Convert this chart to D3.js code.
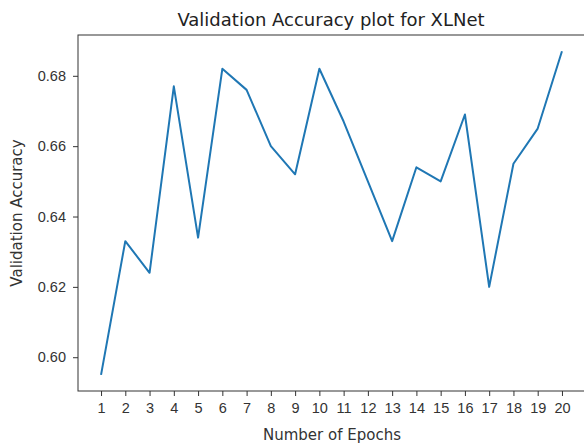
<!DOCTYPE html>
<html>
<head>
<meta charset="utf-8">
<script src="https://cdn.jsdelivr.net/npm/d3@7"></script>
<style>
  body { margin: 0; background: #fff; }
  svg { display: block; font-family: "DejaVu Sans", sans-serif; }
</style>
</head>
<body>
<script>
// data
const epochs = [1, 2, 3, 4, 5, 6, 7, 8, 9, 10, 11, 12, 13, 14, 15, 16, 17, 18, 19, 20];
const accuracy = [0.595, 0.633, 0.624, 0.677, 0.634, 0.682, 0.676, 0.660, 0.652, 0.682,
                  0.667, 0.650, 0.633, 0.654, 0.650, 0.669, 0.620, 0.655, 0.665, 0.687];
const yTicks = [0.60, 0.62, 0.64, 0.66, 0.68];

const width = 584, height = 443;
const margin = {top: 35, right: -1, bottom: 52, left: 78};

const svg = d3.select("body").append("svg")
    .attr("width", width)
    .attr("height", height);

const xPad = (d3.max(epochs) - d3.min(epochs)) * 0.05;
const x = d3.scaleLinear()
    .domain([d3.min(epochs) - xPad, d3.max(epochs) + xPad])
    .range([margin.left, width - margin.right]);

const yPad = (d3.max(accuracy) - d3.min(accuracy)) * 0.05;
const y = d3.scaleLinear()
    .domain([d3.min(accuracy) - yPad, d3.max(accuracy) + yPad])
    .range([height - margin.bottom, margin.top]);

const xAxis = svg.append("g")
    .attr("transform", `translate(0,${height - margin.bottom})`)
    .call(d3.axisBottom(x).tickValues(epochs).tickFormat(d3.format("d")).tickSize(5).tickPadding(7));

const yAxis = svg.append("g")
    .attr("transform", `translate(${margin.left},0)`)
    .call(d3.axisLeft(y).tickValues(yTicks).tickFormat(d3.format(".2f")).tickSize(5).tickPadding(7));

for (const g of [xAxis, yAxis]) {
    g.select(".domain").remove();
    g.selectAll(".tick line").attr("stroke", "#333");
    g.selectAll(".tick text").attr("fill", "#333").style("font-size", "14.5px");
}

// frame
svg.append("rect")
    .attr("x", margin.left)
    .attr("y", margin.top)
    .attr("width", width - margin.right - margin.left)
    .attr("height", height - margin.bottom - margin.top)
    .attr("fill", "none")
    .attr("stroke", "#333")
    .attr("stroke-width", 1);

const line = d3.line()
    .x((d, i) => x(epochs[i]))
    .y(d => y(d));

svg.append("path")
    .datum(accuracy)
    .attr("fill", "none")
    .attr("stroke", "#1f77b4")
    .attr("stroke-width", 2)
    .attr("stroke-linejoin", "round")
    .attr("d", line);

svg.append("text")
    .attr("x", 331)
    .attr("y", 26)
    .attr("text-anchor", "middle")
    .attr("fill", "#222")
    .style("font-size", "18px")
    .text("Validation Accuracy plot for XLNet");

svg.append("text")
    .attr("x", 332)
    .attr("y", 440)
    .attr("text-anchor", "middle")
    .attr("fill", "#333")
    .style("font-size", "15px")
    .text("Number of Epochs");

svg.append("text")
    .attr("transform", `translate(22,${(margin.top + height - margin.bottom) / 2}) rotate(-90)`)
    .attr("text-anchor", "middle")
    .attr("fill", "#333")
    .style("font-size", "15px")
    .text("Validation Accuracy");
</script>
</body>
</html>
